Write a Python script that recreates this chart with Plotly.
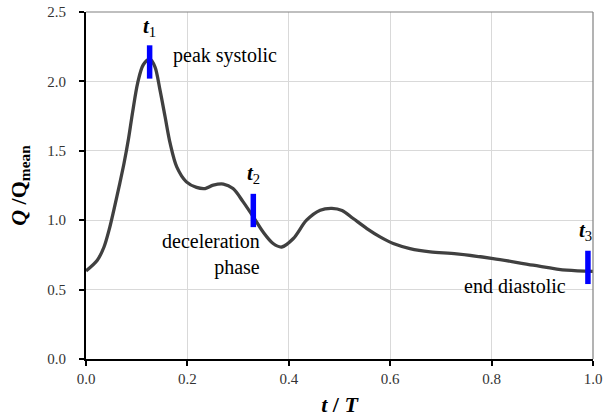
import plotly.graph_objects as go

# Flow waveform
t_vals = [0.0, 0.0223, 0.0355, 0.0454, 0.055, 0.066, 0.075, 0.084, 0.092, 0.102,
          0.113, 0.126, 0.136, 0.146, 0.156, 0.166, 0.179, 0.198, 0.218, 0.235,
          0.251, 0.271, 0.29, 0.31, 0.33, 0.349, 0.369, 0.386, 0.409, 0.435,
          0.462, 0.485, 0.505, 0.527, 0.554, 0.58, 0.606, 0.639, 0.679, 0.731,
          0.803, 0.882, 0.948, 1.0]
q_vals = [0.635, 0.712, 0.807, 0.928, 1.075, 1.255, 1.41, 1.59, 1.78, 1.99,
          2.12, 2.16, 2.105, 1.937, 1.745, 1.553, 1.384, 1.276, 1.236, 1.228,
          1.252, 1.26, 1.228, 1.132, 1.024, 0.916, 0.832, 0.807, 0.868, 1.0,
          1.072, 1.085, 1.07, 1.012, 0.94, 0.88, 0.832, 0.796, 0.772, 0.758,
          0.724, 0.676, 0.64, 0.632]

# Time markers
marker_t = [0.1255, 0.33, 0.99]
marker_lo = [2.02, 0.95, 0.54]
marker_hi = [2.26, 1.19, 0.78]
marker_names = ["1", "2", "3"]

x_ticks = [0.0, 0.2, 0.4, 0.6, 0.8, 1.0]
y_ticks = [0.0, 0.5, 1.0, 1.5, 2.0, 2.5]

serif = "Liberation Serif"

fig = go.Figure()
fig.add_trace(go.Scatter(x=t_vals, y=q_vals, mode="lines",
                         line=dict(color="#404040", width=3.3, shape="spline", smoothing=0.9),
                         hoverinfo="skip", showlegend=False))

for tm, lo, hi in zip(marker_t, marker_lo, marker_hi):
    fig.add_trace(go.Scatter(x=[tm, tm], y=[lo, hi], mode="lines",
                             line=dict(color="#0000ff", width=5.5),
                             hoverinfo="skip", showlegend=False))

# marker labels
label_offsets = [(0.0, 0.135), (0.0, 0.14), (-0.005, 0.14)]
for tm, hi, nm, (dx, dy) in zip(marker_t, marker_hi, marker_names, label_offsets):
    fig.add_annotation(x=tm + dx, y=hi + dy, text="<b><i>t</i></b><sub>" + nm + "</sub>",
                       showarrow=False, font=dict(family=serif, size=21, color="black"),
                       xanchor="center", yanchor="middle")

fig.add_annotation(x=0.167, y=2.19, text="peak systolic", showarrow=False,
                   xanchor="left", yanchor="middle",
                   font=dict(family=serif, size=20, color="black"))
fig.add_annotation(x=0.347, y=0.75, text="deceleration<br>phase", showarrow=False,
                   xanchor="right", yanchor="middle", align="right",
                   font=dict(family=serif, size=20, color="black"))
fig.add_annotation(x=0.951, y=0.524, text="end diastolic", showarrow=False,
                   xanchor="right", yanchor="middle",
                   font=dict(family=serif, size=20, color="black"))

# top and right frame
fig.add_shape(type="line", xref="paper", yref="paper", x0=0, x1=1, y0=1, y1=1,
              line=dict(color="#808080", width=1.2))
fig.add_shape(type="line", xref="paper", yref="paper", x0=1, x1=1, y0=0, y1=1,
              line=dict(color="#808080", width=1.2))

fig.update_layout(
    width=608, height=417,
    margin=dict(l=86, r=15, t=12, b=58, autoexpand=False),
    paper_bgcolor="white", plot_bgcolor="white",
    font=dict(family=serif, color="#333333"),
    xaxis=dict(range=[0, 1], tickvals=x_ticks, ticktext=["%.1f" % v for v in x_ticks],
               showgrid=True, gridcolor="#d9d9d9", gridwidth=1,
               showline=True, linecolor="black", linewidth=2,
               ticks="outside", ticklen=5, tickwidth=1.5, tickcolor="black",
               tickfont=dict(family=serif, size=15, color="#333333"),
               ticklabelstandoff=0, zeroline=False, automargin=False,
               title=dict(text="<b><i>t</i> / <i>T</i></b>",
                          font=dict(family=serif, size=22, color="black"))),
    yaxis=dict(range=[0, 2.5], tickvals=y_ticks, ticktext=["%.1f" % v for v in y_ticks],
               showgrid=True, gridcolor="#d9d9d9", gridwidth=1,
               showline=True, linecolor="black", linewidth=2,
               ticks="outside", ticklen=5, tickwidth=1.5, tickcolor="black",
               tickfont=dict(family=serif, size=15, color="#333333"),
               ticklabelstandoff=10, zeroline=False, automargin=False,
               title=dict(text="<b><i>Q</i> /Q<sub>mean</sub></b>",
                          font=dict(family=serif, size=22, color="black"))),
)

fig.write_html("out.html")
